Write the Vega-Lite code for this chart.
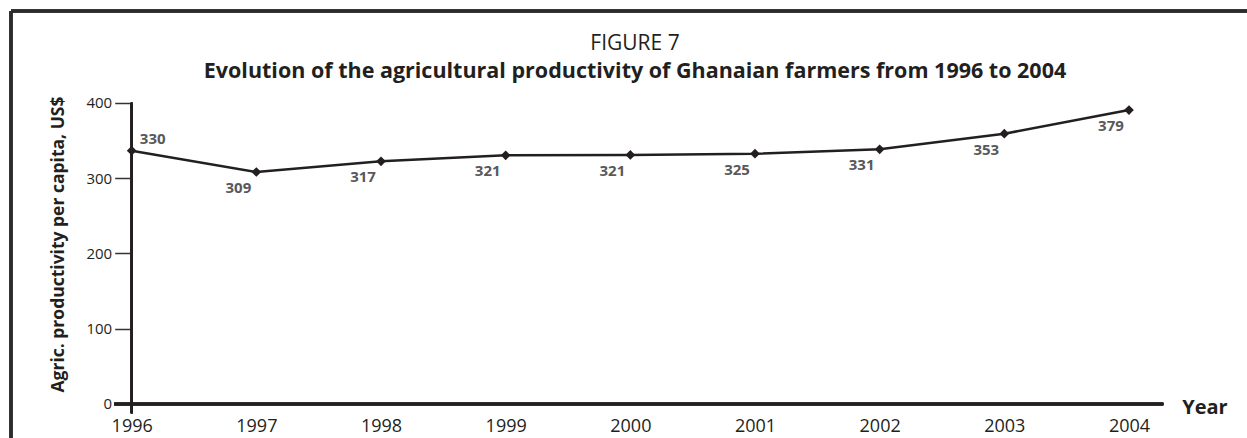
{
  "$schema": "https://vega.github.io/schema/vega-lite/v6.json",
  "width": 1236,
  "height": 427,
  "autosize": {"type": "none"},
  "padding": {"left": 11, "top": 11, "right": 0, "bottom": 0},
  "background": "white",
  "config": {"view": {"stroke": null}, "font": "Open Sans"},
  "title": {
    "text": "FIGURE 7",
    "subtitle": "Evolution of the agricultural productivity of Ghanaian farmers from 1996 to 2004",
    "anchor": "middle",
    "frame": "group",
    "dx": 6,
    "offset": -73,
    "font": "Open Sans",
    "fontSize": 21,
    "fontWeight": "normal",
    "color": "#231f20",
    "subtitleFont": "Open Sans",
    "subtitleFontSize": 21.5,
    "subtitleFontWeight": "bold",
    "subtitleColor": "#231f20",
    "subtitlePadding": 7
  },
  "data": {
    "values": [
      {"year": 1996, "value": 336.3, "label": "330"},
      {"year": 1997, "value": 308.0, "label": "309"},
      {"year": 1998, "value": 322.2, "label": "317"},
      {"year": 1999, "value": 330.2, "label": "321"},
      {"year": 2000, "value": 330.6, "label": "321"},
      {"year": 2001, "value": 332.3, "label": "325"},
      {"year": 2002, "value": 338.1, "label": "331"},
      {"year": 2003, "value": 358.8, "label": "353"},
      {"year": 2004, "value": 390.3, "label": "379"}
    ]
  },
  "layer": [
    {
      "mark": {"type": "line", "color": "#231f20", "strokeWidth": 2.5},
      "encoding": {
        "x": {
          "field": "year",
          "type": "quantitative",
          "scale": {"domain": [1995.0318, 2004.9468], "nice": false, "zero": false},
          "axis": {
            "values": [1996, 1997, 1998, 1999, 2000, 2001, 2002, 2003, 2004],
            "format": "d",
            "domain": false,
            "ticks": false,
            "grid": false,
            "offset": -34,
            "labelPadding": 13,
            "labelFontSize": 18,
            "labelColor": "#231f20",
            "labelFlush": false,
            "labelOverlap": false,
            "title": "Year",
            "titleX": 1170.7,
            "titleY": 9.3,
            "titleAlign": "left",
            "titleBaseline": "alphabetic",
            "titleFontSize": 20,
            "titleFontWeight": "bold",
            "titleColor": "#231f20"
          }
        },
        "y": {
          "field": "value",
          "type": "quantitative",
          "scale": {"domain": [-45.14, 521.74], "nice": false, "zero": false},
          "axis": {
            "values": [0, 100, 200, 300, 400],
            "domain": false,
            "grid": false,
            "offset": -120.7,
            "tickSize": 17,
            "tickWidth": 1.5,
            "tickColor": "#333333",
            "labelPadding": 3,
            "labelFontSize": 15,
            "labelColor": "#231f20",
            "labelFlush": false,
            "labelOverlap": false,
            "title": "Agric. productivity per capita, US$",
            "titleX": -68.7,
            "titleY": 233,
            "titleAngle": 270,
            "titleAlign": "center",
            "titleBaseline": "alphabetic",
            "titleFontSize": 17.5,
            "titleFontWeight": "bold",
            "titleColor": "#231f20"
          }
        }
      }
    },
    {
      "mark": {"type": "rule", "color": "#2b2b2b", "strokeWidth": 2.5},
      "encoding": {
        "x": {"datum": 1995.0318, "type": "quantitative"},
        "x2": {"datum": 2004.9468},
        "y": {"datum": 521.74, "type": "quantitative"}
      }
    },
    {
      "mark": {"type": "rule", "color": "#2b2b2b", "strokeWidth": 2.5},
      "encoding": {
        "x": {"datum": 1995.0318, "type": "quantitative"},
        "y": {"datum": -45.14, "type": "quantitative"},
        "y2": {"datum": 521.74}
      }
    },
    {
      "mark": {"type": "rule", "color": "#231f20", "strokeWidth": 2},
      "encoding": {
        "x": {"datum": 1996, "type": "quantitative"},
        "y": {"datum": -12.3, "type": "quantitative"},
        "y2": {"datum": 400}
      }
    },
    {
      "mark": {"type": "rule", "color": "#231f20", "strokeWidth": 2.5},
      "encoding": {
        "x": {"datum": 1995.86, "type": "quantitative"},
        "x2": {"datum": 2004.275},
        "y": {"datum": 0, "type": "quantitative"}
      }
    },
    {
      "mark": {"type": "point", "shape": "diamond", "filled": true, "size": 95, "color": "#231f20", "opacity": 1},
      "encoding": {
        "x": {"field": "year", "type": "quantitative"},
        "y": {"field": "value", "type": "quantitative"}
      }
    },
    {
      "transform": [{"filter": "datum.year == 1996"}],
      "mark": {"type": "text", "font": "Open Sans", "fontSize": 15, "fontWeight": "bold", "color": "#58595b", "dx": 21, "dy": -12, "align": "center", "baseline": "middle"},
      "encoding": {
        "x": {"field": "year", "type": "quantitative"},
        "y": {"field": "value", "type": "quantitative"},
        "text": {"field": "label"}
      }
    },
    {
      "transform": [{"filter": "datum.year != 1996"}],
      "mark": {"type": "text", "font": "Open Sans", "fontSize": 15, "fontWeight": "bold", "color": "#58595b", "dx": -18, "dy": 16, "align": "center", "baseline": "middle"},
      "encoding": {
        "x": {"field": "year", "type": "quantitative"},
        "y": {"field": "value", "type": "quantitative"},
        "text": {"field": "label"}
      }
    }
  ]
}
